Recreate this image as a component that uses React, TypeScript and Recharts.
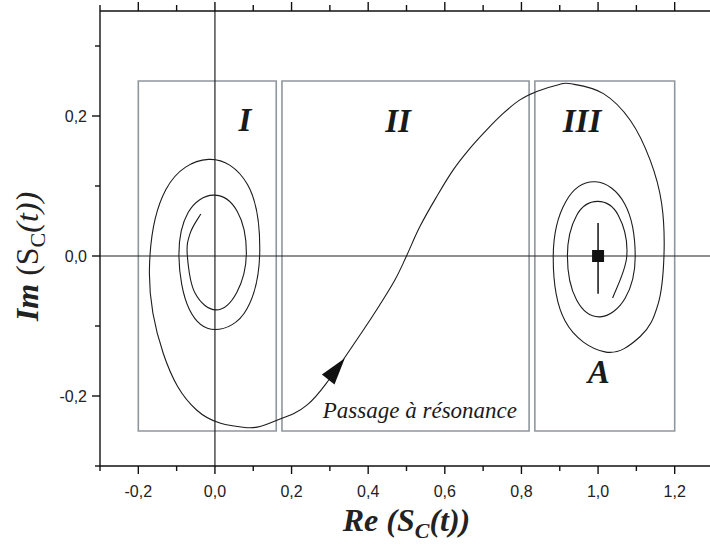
import React from 'react';
import {
  ComposedChart,
  XAxis,
  YAxis,
  Scatter,
  ErrorBar,
  ReferenceArea,
  ReferenceLine,
  ReferenceDot,
} from 'recharts';

// axes
const xDomain = [-0.3, 1.3];
const yDomain = [-0.3, 0.35];
const xTicks = [-0.3, -0.2, -0.1, 0, 0.1, 0.2, 0.3, 0.4, 0.5, 0.6, 0.7, 0.8, 0.9, 1.0, 1.1, 1.2, 1.3];
const xLabelled = [-0.2, 0, 0.2, 0.4, 0.6, 0.8, 1.0, 1.2];
const yTicks = [-0.3, -0.2, -0.1, 0, 0.1, 0.2, 0.3];
const yLabelled = [-0.2, 0, 0.2];

// trajectory S_C(t): [Re, Im], in time order
const trajectory: [number, number][] = [
  // region I, spiral leaving the origin
  [-0.037, 0.06],
  [-0.065, 0.032],
  [-0.072, 0.0],
  [-0.052, -0.053],
  [0.003, -0.077],
  [0.057, -0.052],
  [0.082, 0.004],
  [0.058, 0.064],
  [-0.004, 0.087],
  [-0.07, 0.062],
  [-0.094, 0.0],
  [-0.067, -0.076],
  [0.0, -0.105],
  [0.083, -0.076],
  [0.117, 0.009],
  [0.085, 0.102],
  [-0.017, 0.138],
  [-0.128, 0.095],
  [-0.171, -0.02],
  [-0.135, -0.139],
  [-0.048, -0.22],
  [0.078, -0.245],
  // region II, passage through resonance
  [0.17, -0.233],
  [0.24, -0.213],
  [0.3, -0.175],
  [0.387, -0.106],
  [0.43, -0.07],
  [0.47, -0.034],
  [0.5, 0.0],
  [0.535, 0.042],
  [0.579, 0.085],
  [0.622, 0.123],
  [0.666, 0.154],
  [0.709, 0.18],
  [0.753, 0.204],
  [0.796, 0.223],
  [0.84, 0.235],
  [0.892, 0.244],
  // region III, spiral around A
  [0.93, 0.246],
  [1.014, 0.232],
  [1.084, 0.194],
  [1.136, 0.137],
  [1.166, 0.075],
  [1.172, 0.0],
  [1.157, -0.068],
  [1.11, -0.115],
  [1.018, -0.137],
  [0.914, -0.093],
  [0.883, 0.0],
  [0.916, 0.078],
  [0.993, 0.106],
  [1.07, 0.074],
  [1.097, 0.0],
  [1.071, -0.06],
  [1.005, -0.087],
  [0.944, -0.063],
  [0.92, 0.0],
  [0.944, 0.058],
  [0.999, 0.078],
  [1.053, 0.058],
  [1.075, 0.0],
  [1.038, -0.06],
];

// regions I, II, III
const regionRe: [number, number][] = [
  [-0.2, 0.16],
  [0.175, 0.82],
  [0.835, 1.2],
];
const regionIm: [number, number] = [-0.25, 0.25];

const regionLabels = [
  { text: 'I', re: 0.078, im: 0.179 },
  { text: 'II', re: 0.478, im: 0.177 },
  { text: 'III', re: 0.958, im: 0.177 },
  { text: 'A', re: 1.002, im: -0.181 },
];
const caption = { text: 'Passage à résonance', re: 0.535, im: -0.231 };

// fixed point A with its spread, and the arrow on the passage
const fixedPoint = [{ re: 1.0, im: 0.0, spread: [0.054, 0.047] }];
const arrowAt = [{ re: 0.339, im: -0.146 }];

const trajectoryData = trajectory.map(([re, im]) => ({ re, im }));

const fmt = (v: number) => v.toFixed(1).replace('.', ',');
const inList = (list: number[], v: number) => list.some((t) => Math.abs(t - v) < 1e-6);

// smooth cardinal path through the points recharts has projected
const smoothPath = (pts: { x: number; y: number }[]) => {
  if (!pts || !pts.length) return '';
  const k = 0.185;
  let out = `M${pts[0].x},${pts[0].y}`;
  for (let i = 0; i < pts.length - 1; i++) {
    const p0 = pts[i - 1] ?? pts[i];
    const p1 = pts[i];
    const p2 = pts[i + 1];
    const p3 = pts[i + 2] ?? pts[i + 1];
    const c1x = p1.x + (p2.x - p0.x) * k;
    const c1y = p1.y + (p2.y - p0.y) * k;
    const c2x = p2.x - (p3.x - p1.x) * k;
    const c2y = p2.y - (p3.y - p1.y) * k;
    out += ` C${c1x},${c1y} ${c2x},${c2y} ${p2.x},${p2.y}`;
  }
  return out;
};

const TrajectoryLine = (props: any) => (
  <path d={smoothPath(props.points)} fill="none" stroke="#1c1c1c" strokeWidth={1.1} />
);

const AXIS = '#111';
const serif = '"Liberation Serif", "Times New Roman", serif';
const sans = '"Liberation Sans", Arial, sans-serif';

const BottomTick = (props: any) => {
  const { x, y, payload } = props;
  const major = inList(xLabelled, payload.value);
  return (
    <g>
      <line x1={x} x2={x} y1={y} y2={y + (major ? 8 : 5)} stroke={AXIS} strokeWidth={1.4} />
      {major && (
        <text x={x} y={y + 31} textAnchor="middle" fontFamily={sans} fontSize={16} fill="#222">
          {fmt(payload.value)}
        </text>
      )}
    </g>
  );
};

const TopTick = (props: any) => {
  const { x, y, payload } = props;
  const major = inList(xLabelled, payload.value);
  return <line x1={x} x2={x} y1={y} y2={y - (major ? 9 : 6)} stroke={AXIS} strokeWidth={1.4} />;
};

const LeftTick = (props: any) => {
  const { x, y, payload } = props;
  const major = inList(yLabelled, payload.value);
  return (
    <g>
      <line x1={x - (major ? 8 : 5)} x2={x} y1={y} y2={y} stroke={AXIS} strokeWidth={1.4} />
      {major && (
        <text x={x - 13} y={y + 6} textAnchor="end" fontFamily={sans} fontSize={16} fill="#222">
          {fmt(payload.value)}
        </text>
      )}
    </g>
  );
};

const XTitle = (props: any) => {
  const vb = props.viewBox ?? { x: 100, y: 466, width: 613, height: 30 };
  const cx = vb.x + vb.width / 2;
  return (
    <text x={cx} y={vb.y + 65} textAnchor="middle" fontFamily={serif} fontSize={32} fontWeight="bold" fontStyle="italic" fill="#222">
      <tspan>Re (S</tspan>
      <tspan dy={7} fontSize={22}>C</tspan>
      <tspan dy={-7}>(t))</tspan>
    </text>
  );
};

const YTitle = (props: any) => {
  const vb = props.viewBox ?? { x: 40, y: 11, width: 60, height: 455 };
  const bx = vb.x - 2;
  const cy = vb.y + vb.height / 2 + 18;
  return (
    <text
      x={bx}
      y={cy}
      transform={`rotate(-90 ${bx} ${cy})`}
      textAnchor="middle"
      fontFamily={serif}
      fontSize={32}
      fill="#222"
    >
      <tspan fontWeight="bold" fontStyle="italic">Im </tspan>
      <tspan>(S</tspan>
      <tspan dy={7} fontSize={22}>C</tspan>
      <tspan dy={-7} fontStyle="italic">(t))</tspan>
    </text>
  );
};

const NoMark = () => <g />;

const SquareMark = (props: any) => {
  const { cx, cy } = props;
  return <rect x={cx - 6} y={cy - 6} width={12} height={12} fill="#111" />;
};

const ArrowHead = (props: any) => {
  const { cx, cy } = props;
  return <polygon points="0,0 -27,-8 -27,8" transform={`translate(${cx},${cy}) rotate(-52)`} fill="#111" />;
};

export default function App() {
  return (
    <div style={{ position: 'absolute', left: 0, top: 0, width: 710, height: 546, overflow: 'hidden', background: '#fff' }}>
      <ComposedChart width={720} height={546} margin={{ top: 10, right: 7, bottom: 50, left: 40 }}>
        <XAxis
          xAxisId="top"
          orientation="top"
          type="number"
          dataKey="re"
          domain={xDomain}
          ticks={xTicks}
          interval={0}
          height={1}
          tickSize={0}
          tickMargin={0}
          tickLine={false}
          tick={<TopTick />}
          axisLine={{ stroke: AXIS, strokeWidth: 1.4 }}
          allowDataOverflow
        />
        <XAxis
          type="number"
          dataKey="re"
          domain={xDomain}
          ticks={xTicks}
          interval={0}
          height={30}
          tickSize={0}
          tickMargin={0}
          tickLine={false}
          tick={<BottomTick />}
          axisLine={{ stroke: AXIS, strokeWidth: 1.4 }}
          allowDataOverflow
          label={<XTitle />}
        />
        <YAxis
          type="number"
          dataKey="im"
          domain={yDomain}
          ticks={yTicks}
          interval={0}
          width={60}
          tickSize={0}
          tickMargin={0}
          tickLine={false}
          tick={<LeftTick />}
          axisLine={{ stroke: AXIS, strokeWidth: 1.4 }}
          allowDataOverflow
          label={<YTitle />}
        />

        {regionRe.map(([a, b], i) => (
          <ReferenceArea
            key={i}
            x1={a}
            x2={b}
            y1={regionIm[0]}
            y2={regionIm[1]}
            fill="none"
            stroke="#8f979e"
            strokeWidth={1.6}
          />
        ))}

        <ReferenceLine x={0} stroke="#222" strokeWidth={1.2} />
        <ReferenceLine y={0} stroke="#222" strokeWidth={1.2} />

        <Scatter
          data={trajectoryData}
          dataKey="im"
          line={TrajectoryLine}
          lineType="joint"
          shape={<NoMark />}
          isAnimationActive={false}
        />

        <Scatter data={fixedPoint} dataKey="im" shape={<SquareMark />} isAnimationActive={false}>
          <ErrorBar dataKey="spread" direction="y" width={0} stroke="#111" strokeWidth={1.5} isAnimationActive={false} />
        </Scatter>

        <Scatter data={arrowAt} dataKey="im" shape={<ArrowHead />} isAnimationActive={false} />

        {regionLabels.map((l) => (
          <ReferenceDot
            key={l.text}
            x={l.re}
            y={l.im}
            r={0}
            shape={(p: any) => (
              <text x={p.cx} y={p.cy} textAnchor="middle" fontFamily={serif} fontSize={33} fontWeight="bold" fontStyle="italic" fill="#1a1a1a">
                {l.text}
              </text>
            )}
          />
        ))}
        <ReferenceDot
          x={caption.re}
          y={caption.im}
          r={0}
          shape={(p: any) => (
            <text x={p.cx} y={p.cy} textAnchor="middle" fontFamily={serif} fontSize={23} fontStyle="italic" fill="#1a1a1a">
              {caption.text}
            </text>
          )}
        />
      </ComposedChart>
    </div>
  );
}
